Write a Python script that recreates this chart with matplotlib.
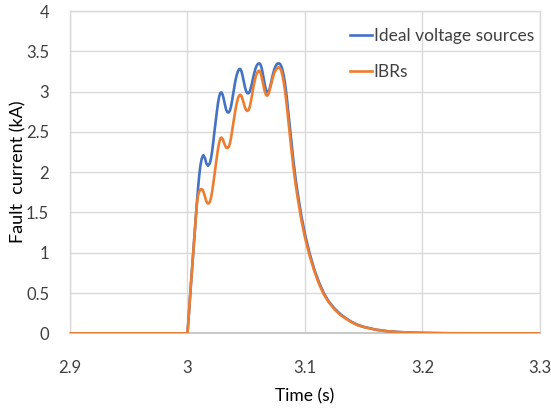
import numpy as np
import matplotlib

matplotlib.use("Agg")
import matplotlib.pyplot as plt

BLUE = "#4472C4"
ORANGE = "#ED7D31"
GRID = "#D9D9D9"
AXIS = "#BFBFBF"
TEXT = "#404040"

plt.rcParams.update({
    "font.family": ["Lato", "DejaVu Sans"],
    "font.size": 12,
    "text.color": TEXT,
})

# fault current samples (s, kA)
t_ideal = [2.900, 3.000, 3.001, 3.002, 3.003, 3.004, 3.005, 3.006, 3.007, 3.008,
           3.009, 3.010, 3.011, 3.012, 3.013, 3.0136, 3.015, 3.016, 3.0175, 3.019,
           3.020, 3.021, 3.022, 3.023, 3.024, 3.025, 3.026, 3.027, 3.028, 3.029,
           3.030, 3.031, 3.032, 3.033, 3.034, 3.035, 3.036, 3.037, 3.038, 3.039,
           3.040, 3.041, 3.042, 3.043, 3.044, 3.045, 3.046, 3.047, 3.048, 3.049,
           3.050, 3.051, 3.052, 3.053, 3.054, 3.055, 3.056, 3.057, 3.058, 3.059,
           3.060, 3.061, 3.062, 3.063, 3.064, 3.065, 3.066, 3.067, 3.068, 3.069,
           3.070, 3.071, 3.072, 3.073, 3.074, 3.075, 3.076, 3.077, 3.078, 3.079,
           3.080, 3.081, 3.082, 3.083, 3.084, 3.085, 3.086, 3.087, 3.088, 3.089,
           3.090, 3.092, 3.094, 3.097, 3.100, 3.104, 3.108, 3.112, 3.116, 3.120,
           3.125, 3.130, 3.135, 3.140, 3.145, 3.150, 3.160, 3.170, 3.180, 3.190,
           3.200, 3.220, 3.250, 3.300]
i_ideal = [0.0, 0.0, 0.20, 0.41, 0.62, 0.82, 1.02, 1.22, 1.42, 1.62,
           1.80, 1.96, 2.08, 2.16, 2.20, 2.21, 2.17, 2.11, 2.08, 2.11,
           2.17, 2.26, 2.38, 2.51, 2.63, 2.75, 2.86, 2.94, 2.985, 2.99,
           2.96, 2.90, 2.83, 2.77, 2.745, 2.74, 2.76, 2.81, 2.89, 2.98,
           3.07, 3.15, 3.21, 3.255, 3.28, 3.28, 3.25, 3.19, 3.12, 3.05,
           3.00, 2.98, 2.98, 3.00, 3.05, 3.11, 3.18, 3.24, 3.29, 3.325,
           3.345, 3.35, 3.34, 3.30, 3.23, 3.15, 3.07, 3.01, 2.99, 3.00,
           3.04, 3.10, 3.17, 3.23, 3.28, 3.315, 3.34, 3.35, 3.35, 3.34,
           3.31, 3.26, 3.19, 3.10, 2.99, 2.86, 2.72, 2.58, 2.44, 2.30,
           2.16, 1.92, 1.72, 1.45, 1.23, 0.99, 0.79, 0.63, 0.50, 0.40,
           0.31, 0.24, 0.185, 0.14, 0.105, 0.08, 0.047, 0.027, 0.016, 0.009,
           0.005, 0.001, 0.0, 0.0]

t_ibr = [2.900, 3.000, 3.001, 3.002, 3.003, 3.004, 3.005, 3.006, 3.007, 3.008,
         3.009, 3.010, 3.011, 3.012, 3.013, 3.014, 3.015, 3.016, 3.017, 3.0178,
         3.019, 3.020, 3.021, 3.022, 3.023, 3.024, 3.025, 3.026, 3.027, 3.028,
         3.029, 3.030, 3.031, 3.032, 3.033, 3.034, 3.035, 3.036, 3.037, 3.038,
         3.039, 3.040, 3.041, 3.042, 3.043, 3.044, 3.045, 3.046, 3.047, 3.048,
         3.049, 3.050, 3.051, 3.052, 3.053, 3.054, 3.055, 3.056, 3.057, 3.058,
         3.059, 3.060, 3.061, 3.062, 3.063, 3.064, 3.065, 3.066, 3.067, 3.068,
         3.069, 3.070, 3.071, 3.072, 3.073, 3.074, 3.075, 3.076, 3.077, 3.078,
         3.079, 3.080, 3.081, 3.082, 3.083, 3.084, 3.085, 3.086, 3.087, 3.088,
         3.089, 3.090, 3.092, 3.094, 3.097, 3.100, 3.104, 3.108, 3.112, 3.116,
         3.120, 3.125, 3.130, 3.135, 3.140, 3.145, 3.150, 3.160, 3.170, 3.180,
         3.190, 3.200, 3.220, 3.250, 3.300]
i_ibr = [0.0, 0.0, 0.20, 0.41, 0.62, 0.82, 1.02, 1.22, 1.42, 1.60,
         1.71, 1.76, 1.785, 1.79, 1.78, 1.74, 1.69, 1.64, 1.615, 1.61,
         1.63, 1.68, 1.76, 1.86, 1.97, 2.08, 2.19, 2.29, 2.37, 2.42,
         2.43, 2.41, 2.37, 2.33, 2.305, 2.30, 2.31, 2.35, 2.42, 2.51,
         2.61, 2.70, 2.79, 2.86, 2.92, 2.95, 2.96, 2.945, 2.90, 2.85,
         2.80, 2.77, 2.76, 2.77, 2.81, 2.88, 2.96, 3.05, 3.12, 3.18,
         3.225, 3.25, 3.26, 3.24, 3.19, 3.12, 3.05, 2.99, 2.955, 2.95,
         2.97, 3.02, 3.08, 3.14, 3.19, 3.235, 3.265, 3.285, 3.30, 3.30,
         3.285, 3.25, 3.19, 3.11, 3.01, 2.89, 2.76, 2.62, 2.48, 2.34,
         2.21, 2.08, 1.85, 1.66, 1.40, 1.19, 0.96, 0.77, 0.61, 0.485,
         0.39, 0.30, 0.23, 0.18, 0.135, 0.10, 0.078, 0.045, 0.026, 0.015,
         0.009, 0.005, 0.001, 0.0, 0.0]

x_ticks = [2.9, 3.0, 3.1, 3.2, 3.3]
x_labels = ["2.9", "3", "3.1", "3.2", "3.3"]
y_ticks = [0, 0.5, 1, 1.5, 2, 2.5, 3, 3.5, 4]
y_labels = ["0", "0.5", "1", "1.5", "2", "2.5", "3", "3.5", "4"]

fig = plt.figure(figsize=(5.51, 4.08), dpi=100)
ax = fig.add_axes([0.127, 0.183, 0.853, 0.790])

ax.plot(t_ideal, i_ideal, color=BLUE, lw=1.9, label="Ideal voltage sources",
        solid_joinstyle="round", zorder=3)
ax.plot(t_ibr, i_ibr, color=ORANGE, lw=1.9, label="IBRs",
        solid_joinstyle="round", zorder=4)

ax.set_xlim(2.9, 3.3)
ax.set_ylim(0, 4)
ax.set_xticks(x_ticks, x_labels)
ax.set_yticks(y_ticks, y_labels)
ax.tick_params(length=0, colors=TEXT, labelsize=12)
ax.tick_params(axis="x", pad=19)
ax.tick_params(axis="y", pad=15)
ax.grid(True, color=GRID, lw=1.0, zorder=0)
ax.set_axisbelow(True)
for side in ("left", "top", "right"):
    ax.spines[side].set_color(GRID)
    ax.spines[side].set_linewidth(1.0)
ax.spines["bottom"].set_color(AXIS)
ax.spines["bottom"].set_linewidth(1.2)

ax.set_xlabel("Time (s)", fontsize=12.5)
ax.xaxis.set_label_coords(0.5, -0.172)
ax.set_ylabel("Fault  current (kA)", fontsize=13)
ax.yaxis.set_label_coords(-0.092, 0.5)

ax.legend(loc="upper left", bbox_to_anchor=(0.58, 0.97), frameon=False,
          handlelength=1.3, handletextpad=0.1, labelspacing=1.15,
          borderaxespad=0, fontsize=12.5)

fig.savefig("out.png", dpi=100, facecolor="white")
